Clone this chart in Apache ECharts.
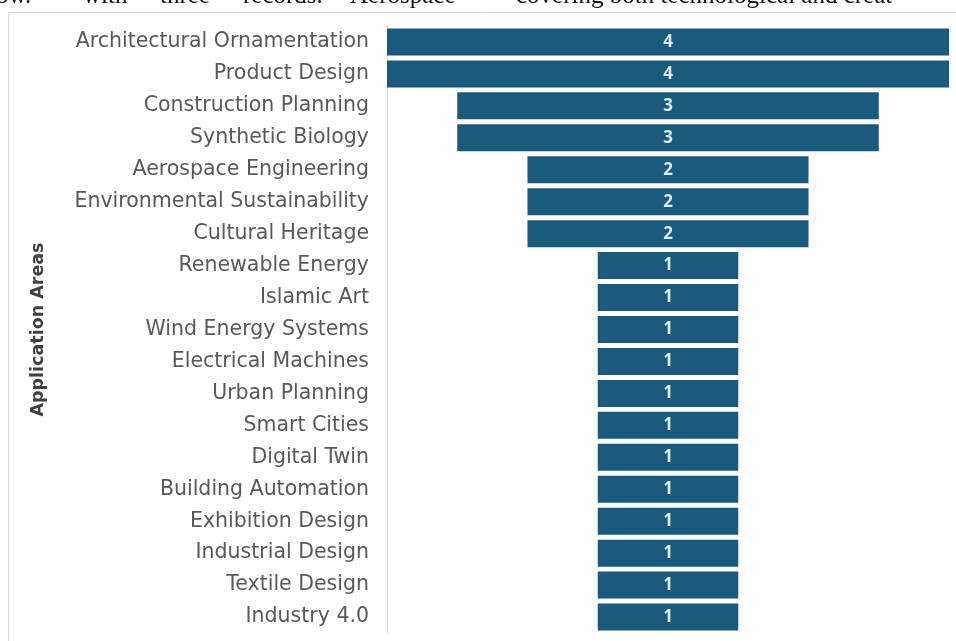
<!DOCTYPE html>
<html>
<head>
<meta charset="utf-8">
<script src="https://cdn.jsdelivr.net/npm/echarts@6/dist/echarts.min.js"></script>
<style>
  html, body { margin: 0; padding: 0; background: #ffffff; }
  #chart { width: 956px; height: 641px; }
</style>
</head>
<body>
<div id="chart"></div>
<script>
// Application areas, top to bottom, and their record counts
const categories = [
  'Architectural Ornamentation', 'Product Design', 'Construction Planning',
  'Synthetic Biology', 'Aerospace Engineering', 'Environmental Sustainability',
  'Cultural Heritage', 'Renewable Energy', 'Islamic Art', 'Wind Energy Systems',
  'Electrical Machines', 'Urban Planning', 'Smart Cities', 'Digital Twin',
  'Building Automation', 'Exhibition Design', 'Industrial Design',
  'Textile Design', 'Industry 4.0'
];
const counts = [4, 4, 3, 3, 2, 2, 2, 1, 1, 1, 1, 1, 1, 1, 1, 1, 1, 1, 1];
const axisMax = 4;

// Transparent lead-in so every bar sits centred (funnel layout)
const padding = counts.map(v => (axisMax - v) / 2);

const chart = echarts.init(document.getElementById('chart'), null, { renderer: 'canvas' });

const serif = '25px "Liberation Serif"';
const textTop = -16;

chart.setOption({
  backgroundColor: '#ffffff',
  animation: false,
  graphic: [
    {
      type: 'rect', silent: true, z: -1,
      shape: { x: 8.5, y: 12.5, width: 1000, height: 700 },
      style: { fill: '#ffffff', stroke: '#d9d9d9', lineWidth: 1 }
    },
    { type: 'text', left: -4, top: textTop, style: { text: 'ow.', font: serif, fill: '#111' } },
    { type: 'text', left: 83, top: textTop, style: { text: 'with', font: serif, fill: '#111' } },
    { type: 'text', left: 160, top: textTop, style: { text: 'three', font: serif, fill: '#111' } },
    { type: 'text', left: 243, top: textTop, style: { text: 'records.', font: serif, fill: '#111' } },
    { type: 'text', left: 350, top: textTop, style: { text: 'Aerospace', font: serif, fill: '#111' } },
    { type: 'text', left: 516, top: textTop, style: { text: 'covering both technological and creat', font: serif, fill: '#111' } }
  ],
  grid: { left: 387, right: 7, top: 26, bottom: 8, containLabel: false },
  xAxis: {
    type: 'value', min: 0, max: axisMax, show: false
  },
  yAxis: {
    type: 'category',
    data: categories,
    inverse: true,
    name: 'Application Areas',
    nameLocation: 'middle',
    nameRotate: 90,
    nameGap: 340,
    nameTextStyle: { fontFamily: 'DejaVu Sans', fontSize: 17.5, fontWeight: 'bold', color: '#404040' },
    axisLine: { show: true, lineStyle: { color: '#d9d9d9', width: 1 } },
    axisTick: { show: false },
    axisLabel: { color: '#595959', fontSize: 20.5, fontFamily: 'DejaVu Sans', margin: 18 },
    splitLine: { show: false }
  },
  series: [
    {
      type: 'bar', stack: 'funnel', data: padding, barWidth: 27,
      itemStyle: { color: 'transparent' }, silent: true
    },
    {
      type: 'bar', stack: 'funnel', data: counts, barWidth: 27,
      itemStyle: { color: '#1a5b7d' },
      label: {
        show: true, position: 'inside', color: '#dcebf7',
        fontSize: 17, fontWeight: 'bold', fontFamily: 'Noto Sans'
      }
    }
  ]
});
</script>
</body>
</html>
